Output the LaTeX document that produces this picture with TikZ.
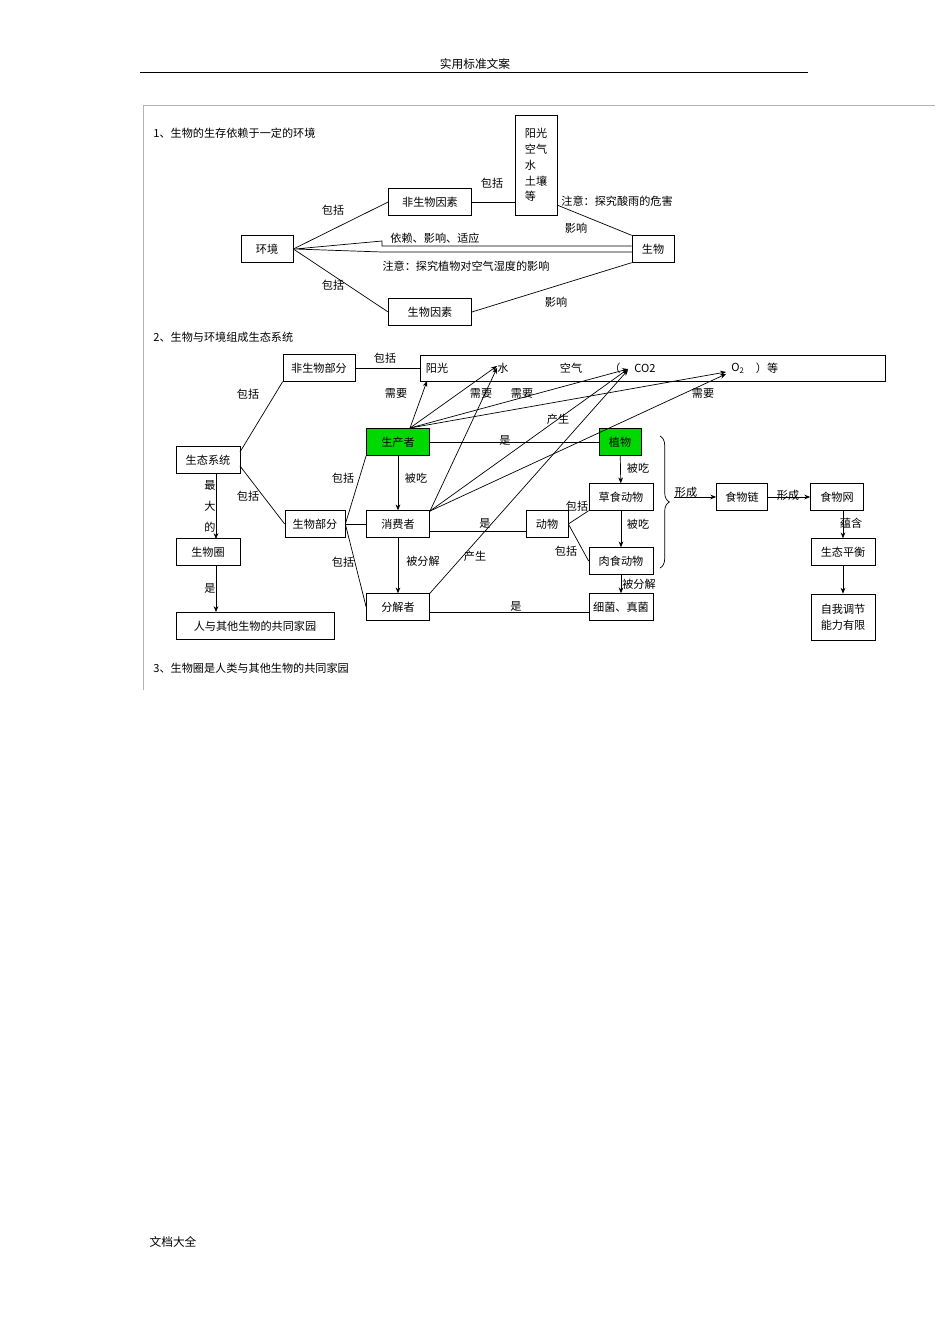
\documentclass[tikz,border=0pt]{standalone}
\usepackage{fontspec}
\setmainfont{Noto Sans CJK SC}
\usetikzlibrary{arrows.meta,decorations.pathreplacing}
\begin{document}
\begin{tikzpicture}[x=0.03cm,y=-0.03cm,
  every node/.style={font=\fontsize{9.5}{11}\selectfont, inner sep=1pt},
  bx/.style={draw, line width=0.6pt, minimum height=0.8cm, inner sep=2pt, anchor=center},
  ln/.style={line width=0.6pt},
  ar/.style={line width=0.6pt,-{Stealth[length=5pt,width=4pt]}},
  lbl/.style={font=\fontsize{9.5}{11}\selectfont}]
\useasboundingbox (0,0) rectangle (950,1344);
% header/footer
\node[font=\fontsize{10}{12}\selectfont] (hd) at (475,64) {实用标准文案};
\draw[line width=0.6pt] (140,72) -- (808,72);
\node[font=\fontsize{10}{12}\selectfont] (ft) at (173,1242) {文档大全};
\draw[gray!60,line width=0.5pt] (935,105) -- (143,105) -- (143,690);
% section 1
\node[anchor=west] (t1) at (152,133) {1、生物的生存依赖于一定的环境};
\node[bx,minimum width=52*0.03cm] (hj) at (267,249) {环境};
\node[bx,minimum width=83*0.03cm] (fsw) at (430,202) {非生物因素};
\node[draw,line width=0.6pt,minimum width=42*0.03cm,minimum height=100*0.03cm,align=left,font=\fontsize{9.5}{13.5}\selectfont] (yg) at (536,165) {阳光\\空气\\水\\土壤\\等};
\node[bx,minimum width=42*0.03cm] (sw) at (653,249) {生物};
\node[bx,minimum width=83*0.03cm] (swys) at (430,312) {生物因素};
\draw[ln] (hj.east) -- (fsw.west);
\draw[ln] (fsw.east) -- (fsw.east -| yg.west);
\draw[ln] (557,205) -- (sw.north west);
\draw[ln] (hj.east) -- (swys.west);
\draw[ln] (swys.east) -- (sw.south west);
\draw[ln] (sw.west) ++(0,-3) coordinate (a1) -- (382,246) -- (382,241) -- (295,249) -- (382,252) -- (632,252);
\node (l1) at (333,210) {包括};
\node (l2) at (333,285) {包括};
\node (l3) at (492,183) {包括};
\node (l4) at (576,228) {影响};
\node (l5) at (556,302) {影响};
\node (l6) at (435,238) {依赖、影响、适应};
\node (l7) at (466,266) {注意：探究植物对空气湿度的影响};
\node[anchor=west] (l8) at (560,201) {注意：探究酸雨的危害};
% section 2
\node[anchor=west] (t2) at (152,337) {2、生物与环境组成生态系统};
\node[bx,minimum width=72*0.03cm] (fbf) at (319,368) {非生物部分};
\node[draw,line width=0.6pt,minimum width=465*0.03cm,minimum height=26*0.03cm] (big) at (652.5,368) {};
\node (yg2) at (437,368) {阳光};
\node (sh) at (503,368) {水};
\node (kq) at (571,368) {空气};
\node (kh) at (615,368) {（};
\node (co) at (645,368) {CO2};
\node (o2) at (738,368) {O\textsubscript{2}};
\node (deng) at (767,368) {）等};
\draw[ln] (fbf.east) -- (big.west);
\node (l9) at (385,358) {包括};
\node[bx,minimum width=64*0.03cm] (stxt) at (208,460) {生态系统};
\node[bx,minimum width=60*0.03cm] (swbf) at (315,524) {生物部分};
\node[bx,minimum width=63*0.03cm,fill=green!85!black] (scz) at (398,442) {生产者};
\node[bx,minimum width=63*0.03cm] (xfz) at (398,524) {消费者};
\node[bx,minimum width=63*0.03cm] (fjz) at (398,607) {分解者};
\node[bx,minimum width=42*0.03cm,fill=green!85!black] (zw) at (620,442) {植物};
\node[bx,minimum width=64*0.03cm] (csdw) at (621,497) {草食动物};
\node[bx,minimum width=42*0.03cm] (dw) at (547,524) {动物};
\node[bx,minimum width=64*0.03cm] (rsdw) at (621,561) {肉食动物};
\node[bx,minimum width=64*0.03cm] (xj) at (621,607) {细菌、真菌};
\node[bx,minimum width=51*0.03cm] (swl) at (742,497) {食物链};
\node[bx,minimum width=53*0.03cm] (sww) at (837,497) {食物网};
\node[bx,minimum width=64*0.03cm] (stph) at (843,552) {生态平衡};
\node[draw,line width=0.6pt,minimum width=64*0.03cm,minimum height=46*0.03cm,align=center,font=\fontsize{9.5}{14}\selectfont] (zw2) at (843,617) {自我调节\\能力有限};
\node[bx,minimum width=64*0.03cm] (swq) at (208,552) {生物圈};
\node[bx,minimum width=158*0.03cm] (gtjy) at (255,626) {人与其他生物的共同家园};
\node[anchor=west] (t3) at (152,668) {3、生物圈是人类与其他生物的共同家园};
% connectors
\draw[ln] (240,452) -- (fbf.south west);
\draw[ln] (240,466) -- (swbf.west);
\node (l10) at (248,394) {包括};
\node (l11) at (248,496) {包括};
\draw[ar] (216,474) -- (216,539);
\node[align=center,font=\fontsize{9.5}{18}\selectfont] (l12) at (210,506) {最\\大\\的};
\draw[ar] (216,566) -- (216,612);
\node (l13) at (210,588) {是};
\draw[ln] (swbf.east) -- (scz.south west);
\draw[ln] (swbf.east) -- (xfz.west);
\draw[ln] (swbf.east) -- (fjz.west);
\node (l14) at (343,478) {包括};
\node (l15) at (343,562) {包括};
\draw[ar] (scz) -- (xfz);
\draw[ar] (xfz) -- (fjz);
\node (l16) at (416,478) {被吃};
\node (l17) at (423,561) {被分解};
\draw[ln] (scz.east) -- (zw.west);
\draw[ln] (xfz.east |- 0,531) -- (dw.west |- 0,531);
\draw[ln] (fjz.east |- 0,612) -- (xj.west |- 0,612);
\node (l18) at (505,440) {是};
\node (l19) at (485,523) {是};
\node (l20) at (516,606) {是};
\draw[ln] (dw.east) -- (csdw.south west);
\draw[ln] (dw.east) -- (rsdw.west);
\node (l21) at (577,506) {包括};
\node (l22) at (566,551) {包括};
\draw[ar] (zw) -- (csdw);
\draw[ar] (csdw) -- (rsdw);
\draw[ar] (rsdw) -- (xj);
\node (l23) at (638,468) {被吃};
\node (l24) at (638,524) {被吃};
\node (l25) at (639,584) {被分解};
\draw[ln,decorate,decoration={brace,amplitude=8pt}] (660,436) -- (660,568);
\coordinate (br) at (674,497);
\draw[ar] (br) -- (swl.west);
\node (l26) at (686,492) {形成};
\draw[ar] (swl) -- (sww);
\node (l27) at (788,495) {形成};
\draw[ar] (sww.south -| stph) -- (stph);
\node (l28) at (851,523) {蕴含};
\draw[ar] (stph) -- (zw2);
% needs/produces
\coordinate (s1) at (410,428);
\coordinate (c1) at (430,511);
\draw[ar] (s1) -- (427,381);
\draw[ar] (s1) -- (497,366);
\draw[ar] (s1) -- (628,369);
\draw[ar] (s1) -- (726,372);
\draw[ar] (c1) -- (497,368);
\draw[ar] (c1) -- (628,369);
\draw[ar] (c1) -- (726,374);
\draw[ar] (fjz.north east) -- (628,370);
\node (l29) at (396,393) {需要};
\node (l30) at (481,393) {需要};
\node (l31) at (522,393) {需要};
\node (l32) at (703,393) {需要};
\node (l33) at (558,419) {产生};
\node (l34) at (475,556) {产生};
\end{tikzpicture}
\end{document}
